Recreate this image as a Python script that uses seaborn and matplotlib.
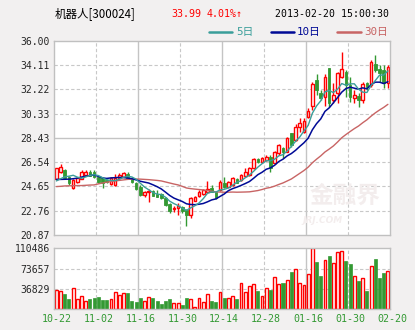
import numpy as np
import pandas as pd
import matplotlib
matplotlib.use("Agg")
import matplotlib.pyplot as plt
import matplotlib.transforms as mtrans
from matplotlib.lines import Line2D
import seaborn as sns

# ---------------- data ----------------
opens = [25.23, 25.75, 25.94, 25.42, 24.51, 24.97, 25.23, 25.55, 25.81, 25.81,
         25.42, 25.29, 25.16, 24.84, 24.77, 25.29, 25.42, 25.60, 25.29, 24.95,
         24.64, 24.00, 24.25, 24.30, 24.10, 24.10, 23.78, 23.29, 22.90, 22.95,
         23.08, 22.82, 22.44, 23.55, 23.94, 24.10, 24.23, 24.55, 24.25, 24.38,
         24.90, 24.64, 24.77, 25.20, 25.16, 25.46, 25.55, 26.06, 26.77, 26.55,
         26.71, 26.97, 26.45, 27.23, 27.62, 27.36, 28.78, 28.27, 29.31, 28.90,
         30.08, 30.94, 32.94, 31.90, 31.64, 33.85, 31.37, 31.90, 33.20, 33.60,
         32.55, 31.56, 31.70, 31.38, 32.68, 32.55, 34.16, 33.77, 33.72, 32.68]
highs = [26.10, 26.38, 26.00, 25.50, 25.20, 25.40, 25.94, 25.94, 25.94, 25.90,
         25.50, 25.35, 25.20, 25.42, 25.60, 25.68, 25.81, 25.81, 25.35, 25.03,
         24.77, 24.33, 24.46, 24.40, 24.36, 24.15, 23.85, 23.35, 23.16, 23.35,
         23.15, 22.90, 23.86, 23.90, 24.40, 24.49, 25.10, 24.75, 24.30, 25.16,
         25.40, 25.10, 25.42, 25.30, 25.60, 26.06, 26.20, 26.85, 26.85, 26.97,
         27.10, 27.10, 27.40, 27.95, 27.70, 28.50, 28.85, 29.49, 29.95, 29.95,
         30.73, 32.80, 33.38, 32.16, 33.38, 33.90, 32.68, 33.59, 35.15, 33.70,
         33.20, 32.16, 31.90, 32.80, 32.80, 34.50, 34.90, 34.10, 34.10, 34.10]
lows = [25.20, 25.70, 25.20, 24.77, 24.45, 24.90, 25.20, 25.50, 25.45, 25.30,
        24.90, 24.56, 24.90, 24.80, 24.70, 25.25, 25.40, 25.30, 24.95, 24.38,
        23.90, 23.81, 23.42, 23.90, 23.80, 23.70, 23.10, 22.60, 22.65, 22.45,
        22.60, 21.60, 22.20, 23.50, 23.86, 24.00, 24.20, 24.20, 23.70, 24.30,
        24.50, 24.60, 24.70, 24.90, 25.10, 25.40, 25.50, 26.00, 26.50, 26.50,
        26.60, 25.81, 26.40, 27.10, 26.90, 27.30, 27.70, 28.20, 28.90, 28.85,
        29.95, 30.60, 31.77, 31.38, 30.94, 30.86, 31.12, 31.12, 33.10, 31.64,
        31.25, 31.12, 30.86, 31.12, 32.16, 32.40, 33.60, 32.80, 32.30, 32.30]
closes = [26.06, 26.19, 25.29, 24.90, 25.16, 25.34, 25.75, 25.81, 25.49, 25.42,
          25.03, 24.90, 24.97, 25.29, 25.34, 25.55, 25.68, 25.34, 25.03, 24.46,
          23.99, 24.20, 24.28, 23.94, 23.86, 23.78, 23.20, 22.74, 23.00, 23.10,
          22.70, 22.40, 23.73, 23.81, 24.20, 24.36, 24.49, 24.23, 23.78, 25.03,
          24.60, 25.03, 25.29, 24.95, 25.55, 25.81, 26.06, 26.79, 26.55, 26.90,
          26.97, 26.06, 27.36, 27.88, 27.36, 28.40, 27.88, 29.31, 29.57, 29.73,
          30.55, 32.60, 32.16, 31.56, 33.20, 31.12, 31.77, 33.46, 33.77, 32.55,
          31.64, 31.80, 31.38, 32.60, 32.42, 34.37, 33.72, 33.46, 32.68, 33.99]
volumes = [34600, 33400, 27300, 18200, 37600, 18200, 23700, 14600, 18200, 20000,
           21900, 17000, 17000, 18200, 30350, 25500, 28500, 29100, 14600, 13350,
           20600, 14000, 21900, 20600, 15200, 9100, 14600, 18200, 10900, 10900,
           7900, 20000, 17600, 4250, 20000, 12700, 26700, 14600, 12700, 30350,
           20000, 20000, 23000, 18200, 46700, 30350, 41300, 44900, 32800, 23000,
           37600, 34600, 57700, 44900, 47300, 52200, 67400, 72800, 46700, 43100,
           63100, 110486, 85600, 60100, 89200, 96500, 83200, 103200, 105600, 87400,
           81950, 59500, 51000, 55800, 32800, 77700, 91100, 56400, 64900, 68600]
# moving-average values visible before a full window of closes exists
ma5_head = [25.08, 25.25, 25.40, 25.45]
ma10_head = [25.20, 25.20, 25.21, 25.22, 25.25, 25.30, 25.38, 25.45, 25.50]
ma30_head = [24.64, 24.66, 24.69, 24.70, 24.71, 24.72, 24.72, 24.74, 24.76, 24.77,
             24.85, 24.92, 24.98, 25.03, 25.08, 25.12, 25.16, 25.20, 25.22, 25.23,
             25.22, 25.20, 25.18, 25.15, 25.12, 25.08, 25.00, 24.92, 24.84]
date_labels = ["10-22", "11-02", "11-16", "11-30", "12-14", "12-28", "01-16", "01-30", "02-20"]
price_ticks = ["36.00", "34.11", "32.22", "30.33", "28.43", "26.54", "24.65", "22.76", "20.87"]
vol_ticks = ["110486", "73657", "36829"]
title = "机器人[300024]"
last_price = "33.99"
change = "4.01%↑"
timestamp = "2013-02-20 15:00:30"
ma_names = ["5日", "10日", "30日"]

# ---------------- derived ----------------
df = pd.DataFrame({"open": opens, "high": highs, "low": lows, "close": closes, "vol": volumes})
df["i"] = np.arange(len(df))
cl = df["close"]
ma5 = cl.rolling(5).mean().values
ma5[:len(ma5_head)] = ma5_head
ma10 = cl.rolling(10).mean().values
ma10[:len(ma10_head)] = ma10_head
ma30 = cl.rolling(30).mean().values
ma30[:len(ma30_head)] = ma30_head
df["ma5"], df["ma10"], df["ma30"] = ma5, ma10, ma30
df["up"] = df["close"] >= df["open"]

# ---------------- style ----------------
sns.set_style("white")
plt.rcParams["font.family"] = ["DejaVu Sans Mono", "Noto Sans CJK SC"]
RED = "#ff0000"
GREEN = "#339933"
C5, C10, C30 = "#3a9e9a", "#000a96", "#c86464"
GRID = "#c8c8c8"
BG = "#f2f0f0"
CJK = ["Noto Sans CJK SC", "DejaVu Sans"]

W, H = 415, 330
fig = plt.figure(figsize=(W / 100, H / 100), dpi=100, facecolor=BG)

def fx(px):
    return px / W

def fy(py):
    return 1 - py / H

L, R = 54.3, 390.0
ax = fig.add_axes([fx(L), fy(235), fx(R) - fx(L), fy(40.7) - fy(235)])
axv = fig.add_axes([fx(L), fy(309), fx(R) - fx(L), fy(248.3) - fy(309)])

n = len(df)
for a in (ax, axv):
    a.set_facecolor("white")
    a.set_xlim(-0.5, n - 0.5)
    for s in a.spines.values():
        s.set_color("#c0c0c0")
        s.set_linewidth(1.0)
    a.set_xticks([])
    a.tick_params(axis="y", length=0, pad=3, labelsize=7.0)
    for k in range(1, 8):
        xg = -0.5 + 10 * k
        if k % 2 == 0:
            a.axvline(xg, color="#c4c4c4", lw=1.0, zorder=0)
        else:
            a.axvline(xg, color=GRID, lw=0.8, ls=(0, (3, 2)), zorder=0)

# price grid
pvals = [float(t) for t in price_ticks]
ax.set_ylim(min(pvals), max(pvals))
ax.set_yticks(pvals)
ax.set_yticklabels(price_ticks)
for j, v in enumerate(pvals[1:-1], start=1):
    if j == 4:
        ax.axhline(v, color="#c4c4c4", lw=1.0, zorder=0)
    else:
        ax.axhline(v, color=GRID, lw=0.8, ls=(0, (3, 2)), zorder=0)

# watermark
ax.text(0.865, 0.2, "金融界", transform=ax.transAxes, ha="center", va="center",
        fontsize=17, fontweight="bold", color="#f3eded", family=CJK, zorder=1)
ax.text(0.80, 0.075, "JRJ.COM", transform=ax.transAxes, ha="center", va="center",
        fontsize=6.5, fontweight="bold", fontstyle="italic", color="#f3eded",
        family=["DejaVu Sans"], zorder=1)

# candles
bw = 0.62
for r in df.itertuples():
    lo_b, hi_b = min(r.open, r.close), max(r.open, r.close)
    h = max(hi_b - lo_b, 0.04)
    if r.up:
        ax.vlines(r.i, r.low, lo_b, color=RED, lw=1.0, zorder=2)
        ax.vlines(r.i, hi_b, r.high, color=RED, lw=1.0, zorder=2)
        ax.bar(r.i, h, bottom=lo_b, width=bw, facecolor="white", edgecolor=RED,
               linewidth=1.0, zorder=2)
    else:
        ax.vlines(r.i, r.low, r.high, color=GREEN, lw=1.0, zorder=2)
        ax.bar(r.i, h, bottom=lo_b, width=bw, facecolor=GREEN, edgecolor=GREEN,
               linewidth=0.6, zorder=2)

# moving averages with seaborn
sns.lineplot(data=df, x="i", y="ma30", ax=ax, color=C30, lw=1.0, estimator=None, zorder=3)
sns.lineplot(data=df, x="i", y="ma10", ax=ax, color=C10, lw=1.1, estimator=None, zorder=3)
sns.lineplot(data=df, x="i", y="ma5", ax=ax, color=C5, lw=1.0, estimator=None, zorder=3)
ax.set_xlabel("")
ax.set_ylabel("")
ax.set_xlim(-0.5, n - 0.5)
ax.set_xticks([])

# volume
vvals = [float(t) for t in vol_ticks]
axv.set_ylim(0, max(vvals))
axv.set_yticks(vvals)
axv.set_yticklabels(vol_ticks)
for v in vvals[1:]:
    axv.axhline(v, color=GRID, lw=0.8, ls=(0, (3, 2)), zorder=0)
up = df[df["up"]]
dn = df[~df["up"]]
axv.bar(up["i"], up["vol"], width=0.68, facecolor="white", edgecolor=RED, linewidth=1.0, zorder=2)
axv.bar(dn["i"], dn["vol"], width=0.72, facecolor=GREEN, edgecolor=GREEN, linewidth=0.5, zorder=2)
axv.set_xlim(-0.5, n - 0.5)
axv.set_xticks([])

# date labels under the volume panel
trans = mtrans.blended_transform_factory(axv.transData, fig.transFigure)
for k, lab in enumerate(date_labels):
    axv.text(-0.5 + 10 * k + 0.5, fy(318.5), lab, transform=trans, ha="center", va="center",
             fontsize=7.2, color=GREEN, clip_on=False)

# header
fig.text(fx(55), fy(14), title, ha="left", va="center", fontsize=8.3, family=CJK, color="black")
fig.text(fx(171), fy(14), last_price, ha="left", va="center", fontsize=7.2, color=RED)
fig.text(fx(207), fy(14), change, ha="left", va="center", fontsize=7.2, color=RED,
         family=["DejaVu Sans Mono", "DejaVu Sans"])
fig.text(fx(389), fy(14), timestamp, ha="right", va="center", fontsize=7.1, color="black")

# legend row
for (x0, x1, tx, col, name) in [(209, 232, 236, C5, ma_names[0]),
                                (271, 294, 297, C10, ma_names[1]),
                                (337, 361, 364, C30, ma_names[2])]:
    fig.add_artist(Line2D([fx(x0), fx(x1)], [fy(32), fy(32)], color=col, lw=1.8,
                          transform=fig.transFigure))
    fig.text(fx(tx), fy(32), name, ha="left", va="center", fontsize=7.8, color=col,
             family=["DejaVu Sans Mono", "Noto Sans CJK SC"])

fig.savefig("out.png", dpi=100, facecolor=BG)
